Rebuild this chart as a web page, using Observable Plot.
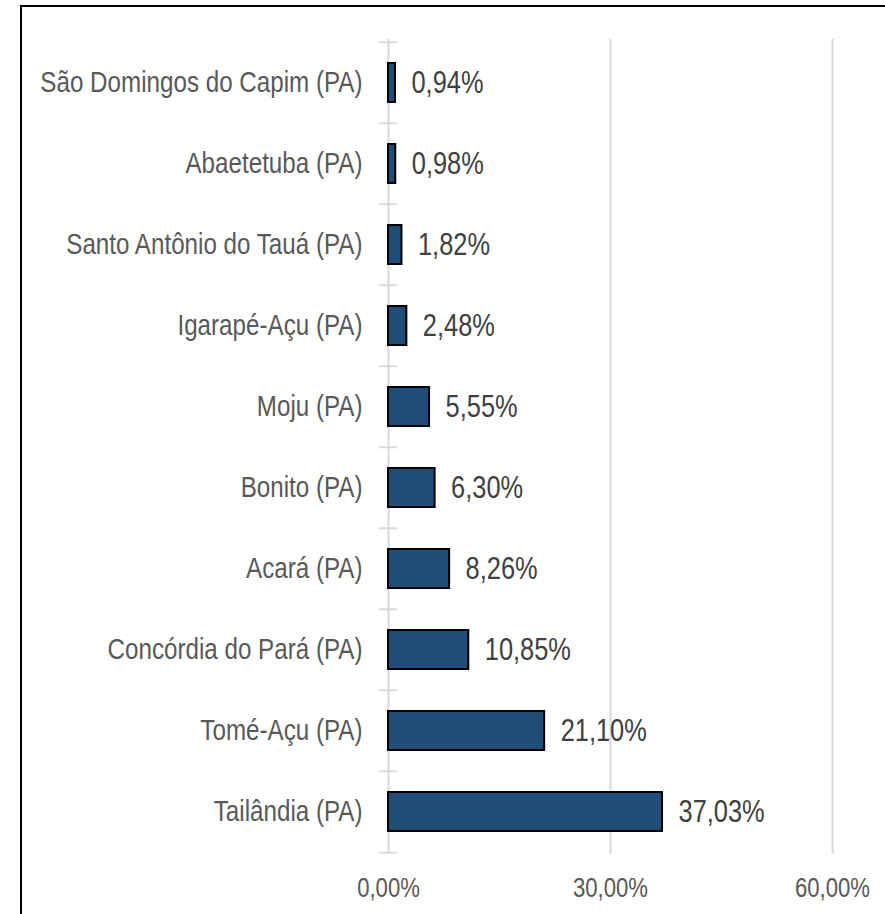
<!DOCTYPE html>
<html>
<head>
<meta charset="utf-8">
<script src="https://cdn.jsdelivr.net/npm/d3@7"></script>
<script src="https://cdn.jsdelivr.net/npm/@observablehq/plot@0.6"></script>
<style>
  html, body { margin: 0; padding: 0; background: #fff; overflow: hidden; }
  #wrap { position: relative; width: 885px; height: 914px; }
  #frame { position: absolute; left: 20px; top: 5px; width: 900px; height: 950px; border: 2.5px solid #000; box-sizing: border-box; pointer-events: none; }
  #chart { position: absolute; left: 0; top: 0; }
  svg { font-family: "Liberation Sans", Arial, sans-serif; }
</style>
</head>
<body>
<div id="wrap"><div id="frame"></div><div id="chart"></div></div>
<script>
const municipios = [
  "São Domingos do Capim (PA)",
  "Abaetetuba (PA)",
  "Santo Antônio do Tauá (PA)",
  "Igarapé-Açu (PA)",
  "Moju (PA)",
  "Bonito (PA)",
  "Acará (PA)",
  "Concórdia do Pará (PA)",
  "Tomé-Açu (PA)",
  "Tailândia (PA)"
];
const percentuais = [0.94, 0.98, 1.82, 2.48, 5.55, 6.30, 8.26, 10.85, 21.10, 37.03];
const xTicks = [0, 30, 60];

const data = municipios.map((m, i) => ({municipio: m, valor: percentuais[i]}));
const fmt = v => v.toFixed(2).replace(".", ",") + "%";

const W = 885, H = 914, mt = 39, mb = 60;
const step = (H - mt - mb) / municipios.length;
const NARROW = 0.82;

const plot = Plot.plot({
  width: W,
  height: H,
  marginLeft: 388,
  marginRight: 53,
  marginTop: mt,
  marginBottom: mb,
  style: {background: "transparent", overflow: "visible"},
  x: {domain: [0, 60]},
  y: {domain: municipios, paddingInner: 0.52, paddingOuter: 0.26},
  marks: [
    Plot.ruleX(xTicks, {stroke: "#d9d9d9", strokeWidth: 2}),
    Plot.ruleY(municipios, {y: d => d, dy: -step / 2, x1: -1.2, x2: 1.2, stroke: "#d9d9d9", strokeWidth: 2}),
    Plot.ruleY([municipios[municipios.length - 1]], {y: d => d, dy: step / 2, x1: -1.2, x2: 1.2, stroke: "#d9d9d9", strokeWidth: 2}),
    Plot.barX(data, {y: "municipio", x: "valor", fill: "#1f4e79", stroke: "#000", strokeWidth: 2}),
    Plot.text(data, {y: "municipio", x: "valor", text: d => fmt(d.valor), textAnchor: "start", dx: 16, fontSize: 31, fill: "#404040"}),
    Plot.axisY({tickSize: 0, tickPadding: 26, fontSize: 29.5, fill: "#595959", label: null}),
    Plot.axisX({ticks: xTicks, tickSize: 0, tickPadding: 23, fontSize: 27, fill: "#595959", label: null, tickFormat: d => fmt(d)})
  ]
});

// emulate a narrow (condensed) typeface by compressing each text horizontally around its anchor
plot.querySelectorAll("text").forEach(t => {
  const tr = t.getAttribute("transform");
  if (tr) {
    t.setAttribute("transform", tr + ` scale(${NARROW},1)`);
  } else {
    const x = +(t.getAttribute("x") || 0);
    t.setAttribute("x", x / NARROW);
    t.setAttribute("transform", `scale(${NARROW},1)`);
  }
});

document.getElementById("chart").appendChild(plot);
</script>
</body>
</html>
